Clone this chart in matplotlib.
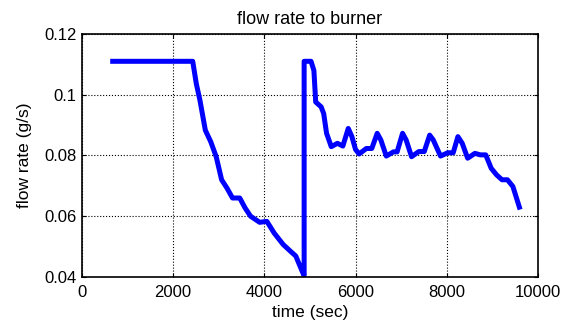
import numpy as np
import matplotlib
matplotlib.use('Agg')
import matplotlib.pyplot as plt

plt.rcParams['font.family'] = ['Liberation Sans', 'DejaVu Sans']

# time (sec) and flow rate (g/s)
time_sec = [619, 2429, 2508, 2587, 2706, 2825, 2944, 3063, 3183, 3302, 3460,
            3579, 3698, 3897, 4056, 4214, 4413, 4571, 4690, 4849, 4873, 4873,
            5024, 5087, 5127, 5246, 5302, 5365, 5468, 5603, 5722, 5841, 5921,
            6000, 6079, 6238, 6357, 6476, 6556, 6675, 6833, 6913, 7032, 7111,
            7230, 7389, 7508, 7627, 7706, 7865, 8024, 8143, 8246, 8341, 8460,
            8619, 8738, 8857, 8976, 9095, 9214, 9333, 9452, 9611]
flow_rate = [0.111, 0.111, 0.1036, 0.0982, 0.0883, 0.0845, 0.0796, 0.072,
             0.0692, 0.066, 0.066, 0.0627, 0.060, 0.058, 0.0583, 0.0545,
             0.0507, 0.0485, 0.0469, 0.0412, 0.0405, 0.111, 0.111, 0.108,
             0.0976, 0.096, 0.0938, 0.0873, 0.0829, 0.084, 0.0831, 0.0889,
             0.0862, 0.082, 0.0805, 0.0823, 0.0823, 0.0873, 0.0851, 0.0798,
             0.0812, 0.0812, 0.0873, 0.0851, 0.0796, 0.0813, 0.0813, 0.0867,
             0.0851, 0.0798, 0.0809, 0.0809, 0.0862, 0.084, 0.0791, 0.0807,
             0.0802, 0.0802, 0.0758, 0.0736, 0.072, 0.072, 0.0698, 0.0622]

fig = plt.figure(figsize=(5.67, 3.32), dpi=100)
ax = fig.add_axes([0.1446, 0.1657, 0.804, 0.732])

ax.plot(time_sec, flow_rate, color='#0000ff', linewidth=3.6,
        solid_joinstyle='round', solid_capstyle='butt')

ax.set_xlim(0, 10000)
ax.set_ylim(0.04, 0.12)
ax.set_xticks([0, 2000, 4000, 6000, 8000, 10000])
ax.set_yticks([0.04, 0.06, 0.08, 0.1, 0.12])
ax.set_yticklabels(['0.04', '0.06', '0.08', '0.1', '0.12'])
ax.grid(True, color='black', linestyle=':', linewidth=0.8)
ax.tick_params(direction='in', top=True, right=True, labelsize=12,
               length=3, width=0.8)
ax.tick_params(axis='x', pad=6)
ax.tick_params(axis='y', pad=4)
for s in ax.spines.values():
    s.set_linewidth(1.2)

ax.set_title('flow rate to burner', fontsize=13, pad=7.5)
ax.set_xlabel('time (sec)', fontsize=12.5, labelpad=3.5)
ax.set_ylabel('flow rate (g/s)', fontsize=12.5, labelpad=9)

fig.savefig('out.png', dpi=100)
